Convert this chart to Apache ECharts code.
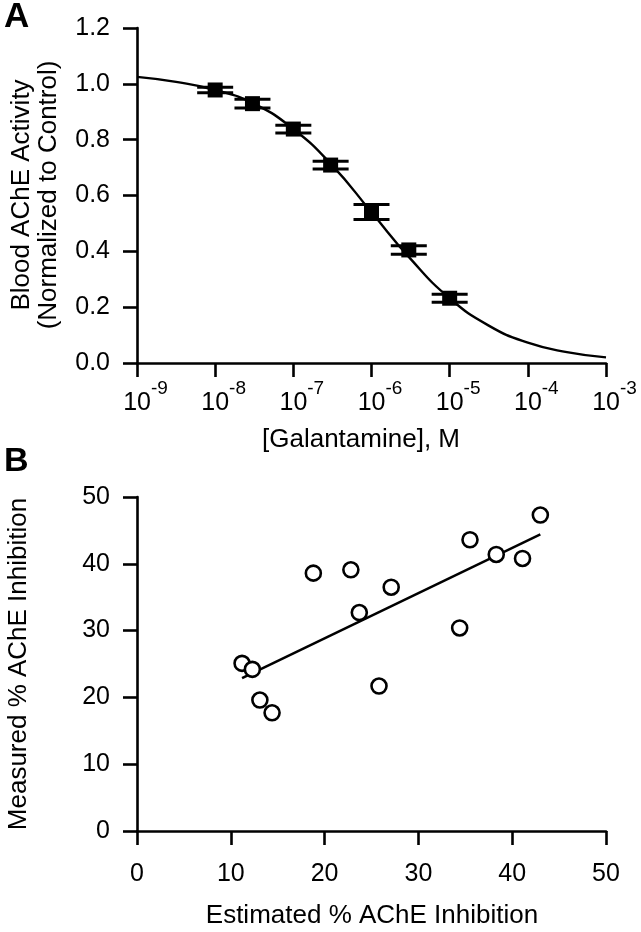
<!DOCTYPE html>
<html>
<head>
<meta charset="utf-8">
<script src="https://cdn.jsdelivr.net/npm/echarts@6/dist/echarts.min.js"></script>
<style>html,body{margin:0;padding:0;background:#fff;}#c{width:641px;height:932px;}</style>
</head>
<body>
<div id="c"></div>
<script>
// ---- Panel A data ----
const doseM = [1e-8, 3e-8, 1e-7, 3e-7, 1e-6, 3e-6, 1e-5];
const activityMean = [0.978, 0.929, 0.838, 0.709, 0.541, 0.405, 0.232];
const activityErr = [0.010, 0.016, 0.014, 0.014, 0.027, 0.015, 0.014];
const curveDose = [1e-9, 3.16e-9, 1e-8, 3.16e-8, 1e-7, 3.16e-7, 1e-6, 3.16e-6, 1e-5, 3.16e-5, 1e-4, 3.16e-4, 1e-3];
const curveActivity = [1.025, 1.007, 0.978, 0.928, 0.838, 0.707, 0.540, 0.373, 0.232, 0.134, 0.073, 0.039, 0.020];

// ---- Panel B data ----
const estimated = [11.2, 12.3, 13.1, 14.4, 18.8, 22.8, 23.7, 25.8, 27.1, 34.4, 35.5, 38.3, 41.1, 43.0];
const measured  = [25.1, 24.2, 19.6, 17.7, 38.6, 39.1, 32.7, 21.7, 36.5, 30.4, 43.6, 41.4, 40.8, 47.3];
const fitX = [11.2, 43.0];
const fitY = [22.9, 44.4];

const FONT = 'Liberation Sans, Arial, Helvetica, sans-serif';
const chart = echarts.init(document.getElementById('c'), null, {renderer: 'canvas'});

const axisLine = {show: true, lineStyle: {color: '#000', width: 2.6}};
const axisTick = {show: true, inside: false, length: 14, lineStyle: {color: '#000', width: 2.6}};

const option = {
  animation: false,
  backgroundColor: '#fff',
  grid: [
    {left: 137, top: 28, width: 469, height: 335},
    {left: 137, top: 497, width: 469, height: 334}
  ],
  xAxis: [
    {
      type: 'log', logBase: 10, min: 1e-9, max: 1e-3, gridIndex: 0,
      axisLine: axisLine, axisTick: axisTick, splitLine: {show: false}, minorTick: {show: false},
      axisLabel: {
        margin: 16, color: '#000', fontFamily: FONT,
        formatter: function (v) {
          const e = Math.round(Math.log10(v));
          return '{p| }{b|10}{s|' + e + '}';
        },
        rich: {
          p: {width: 17, fontSize: 10},
          b: {fontSize: 25, fontFamily: FONT, color: '#000', padding: [12, 0, 0, 0], verticalAlign: 'bottom'},
          s: {fontSize: 19, fontFamily: FONT, color: '#000', verticalAlign: 'top'}
        }
      }
    },
    {
      type: 'value', min: 0, max: 50, interval: 10, gridIndex: 1,
      axisLine: axisLine, axisTick: axisTick, splitLine: {show: false},
      axisLabel: {margin: 31, color: '#000', fontSize: 25, fontFamily: FONT}
    }
  ],
  yAxis: [
    {
      type: 'value', min: 0, max: 1.2, interval: 0.2, gridIndex: 0,
      axisLine: axisLine, axisTick: axisTick, splitLine: {show: false},
      axisLabel: {margin: 27, color: '#000', fontSize: 25, fontFamily: FONT,
        formatter: function (v) { return v.toFixed(1); }}
    },
    {
      type: 'value', min: 0, max: 50, interval: 10, gridIndex: 1,
      axisLine: axisLine, axisTick: axisTick, splitLine: {show: false},
      axisLabel: {margin: 27, color: '#000', fontSize: 25, fontFamily: FONT}
    }
  ],
  series: [
    {
      type: 'line', xAxisIndex: 0, yAxisIndex: 0, smooth: true, symbol: 'none',
      data: curveDose.map((d, i) => [d, curveActivity[i]]),
      lineStyle: {color: '#000', width: 2.4}, z: 2
    },
    {
      type: 'custom', xAxisIndex: 0, yAxisIndex: 0, z: 3,
      data: doseM.map((d, i) => [d, activityMean[i] - activityErr[i], activityMean[i] + activityErr[i]]),
      renderItem: function (params, api) {
        const lo = api.coord([api.value(0), api.value(1)]);
        const hi = api.coord([api.value(0), api.value(2)]);
        const hw = 18;
        const st = {stroke: '#000', lineWidth: 3};
        return {type: 'group', children: [
          {type: 'line', shape: {x1: lo[0], y1: lo[1], x2: hi[0], y2: hi[1]}, style: st},
          {type: 'line', shape: {x1: lo[0] - hw, y1: lo[1], x2: lo[0] + hw, y2: lo[1]}, style: st},
          {type: 'line', shape: {x1: hi[0] - hw, y1: hi[1], x2: hi[0] + hw, y2: hi[1]}, style: st}
        ]};
      }
    },
    {
      type: 'scatter', xAxisIndex: 0, yAxisIndex: 0, z: 4,
      symbol: 'rect', symbolSize: 15,
      data: doseM.map((d, i) => [d, activityMean[i]]),
      itemStyle: {color: '#000', opacity: 1}
    },
    {
      type: 'line', xAxisIndex: 1, yAxisIndex: 1, symbol: 'none', z: 2,
      data: fitX.map((x, i) => [x, fitY[i]]),
      lineStyle: {color: '#000', width: 2.5}
    },
    {
      type: 'scatter', xAxisIndex: 1, yAxisIndex: 1, z: 4,
      symbol: 'circle', symbolSize: 15,
      data: estimated.map((x, i) => [x, measured[i]]),
      itemStyle: {color: '#fff', borderColor: '#000', borderWidth: 2.6, opacity: 1}
    }
  ],
  graphic: [
    {type: 'text', left: 4, top: 0, style: {text: 'A', font: 'bold 35px ' + FONT, fill: '#000'}},
    {type: 'text', left: 4, top: 445, style: {text: 'B', font: 'bold 34px ' + FONT, fill: '#000'}},
    {type: 'text', x: 35, y: 195, rotation: Math.PI / 2,
      style: {text: 'Blood AChE Activity\n(Normalized to Control)', font: '26px ' + FONT, fill: '#000',
        align: 'center', verticalAlign: 'middle', lineHeight: 27}},
    {type: 'text', x: 361, y: 440,
      style: {text: '[Galantamine], M', font: '26px ' + FONT, fill: '#000', align: 'center', verticalAlign: 'middle'}},
    {type: 'text', x: 19, y: 664, rotation: Math.PI / 2,
      style: {text: 'Measured % AChE Inhibition', font: '26px ' + FONT, fill: '#000', align: 'center', verticalAlign: 'middle'}},
    {type: 'text', x: 372, y: 916,
      style: {text: 'Estimated % AChE Inhibition', font: '26px ' + FONT, fill: '#000', align: 'center', verticalAlign: 'middle'}}
  ]
};
chart.setOption(option);
</script>
</body>
</html>
